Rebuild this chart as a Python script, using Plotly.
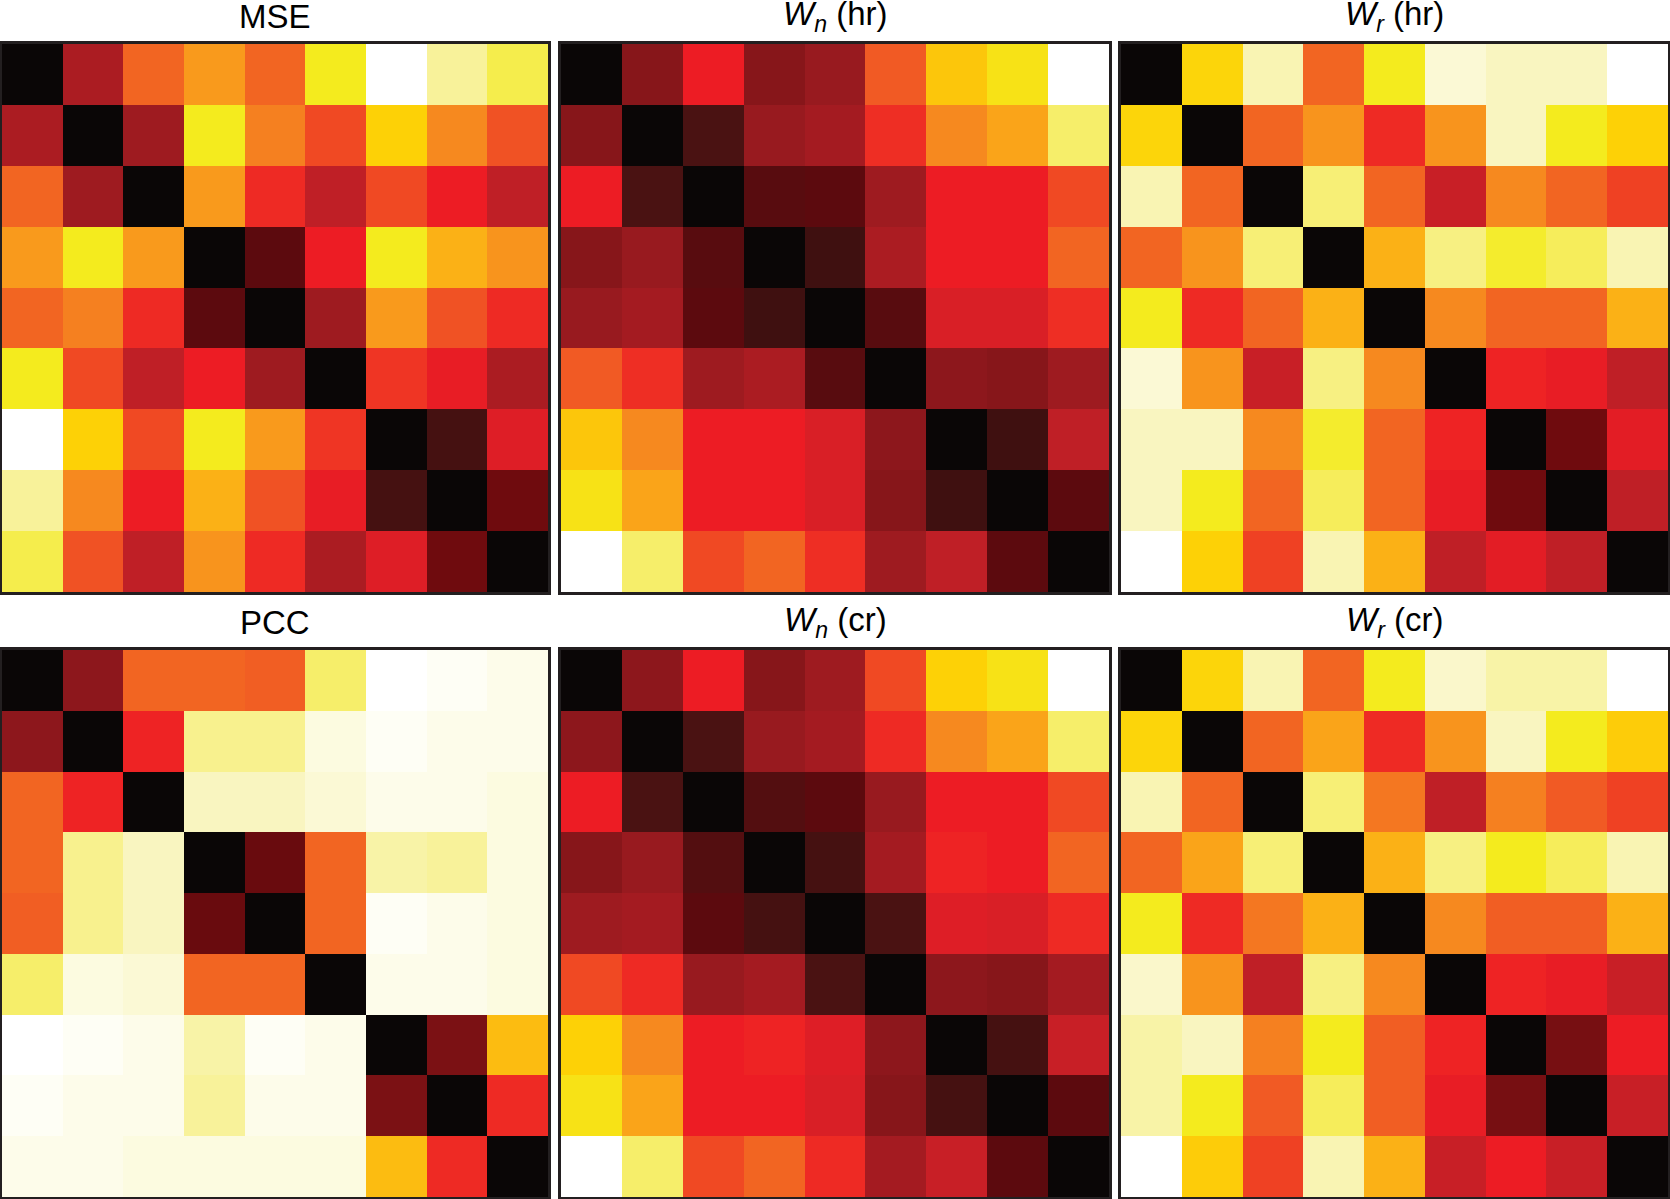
import plotly.graph_objects as go

# ---- data (normalised dissimilarity, 0 = black, 1 = white) ----
mse = [
    [0.00, 0.30, 0.56, 0.63, 0.56, 0.82, 1.00, 0.91, 0.85],
    [0.30, 0.00, 0.28, 0.82, 0.59, 0.51, 0.76, 0.60, 0.52],
    [0.56, 0.28, 0.00, 0.63, 0.44, 0.35, 0.51, 0.42, 0.35],
    [0.63, 0.82, 0.63, 0.00, 0.15, 0.42, 0.82, 0.70, 0.62],
    [0.56, 0.59, 0.44, 0.15, 0.00, 0.28, 0.63, 0.52, 0.44],
    [0.82, 0.51, 0.35, 0.42, 0.28, 0.00, 0.47, 0.41, 0.30],
    [1.00, 0.76, 0.51, 0.82, 0.63, 0.47, 0.00, 0.10, 0.39],
    [0.91, 0.60, 0.42, 0.70, 0.52, 0.41, 0.10, 0.00, 0.18],
    [0.85, 0.52, 0.35, 0.62, 0.44, 0.30, 0.39, 0.18, 0.00],
]
wn_hr = [
    [0.00, 0.24, 0.42, 0.24, 0.27, 0.53, 0.74, 0.80, 1.00],
    [0.24, 0.00, 0.11, 0.27, 0.29, 0.45, 0.60, 0.66, 0.87],
    [0.42, 0.11, 0.00, 0.14, 0.15, 0.28, 0.42, 0.42, 0.51],
    [0.24, 0.27, 0.14, 0.00, 0.09, 0.30, 0.42, 0.42, 0.56],
    [0.27, 0.29, 0.15, 0.09, 0.00, 0.14, 0.38, 0.38, 0.45],
    [0.53, 0.45, 0.28, 0.30, 0.14, 0.00, 0.25, 0.24, 0.28],
    [0.74, 0.60, 0.42, 0.42, 0.38, 0.25, 0.00, 0.09, 0.35],
    [0.80, 0.66, 0.42, 0.42, 0.38, 0.24, 0.09, 0.00, 0.15],
    [1.00, 0.87, 0.51, 0.56, 0.45, 0.28, 0.35, 0.15, 0.00],
]
wr_hr = [
    [0.00, 0.77, 0.93, 0.56, 0.82, 0.96, 0.94, 0.94, 1.00],
    [0.77, 0.00, 0.56, 0.62, 0.44, 0.62, 0.94, 0.82, 0.76],
    [0.93, 0.56, 0.00, 0.88, 0.56, 0.36, 0.60, 0.56, 0.50],
    [0.56, 0.62, 0.88, 0.00, 0.70, 0.89, 0.83, 0.86, 0.93],
    [0.82, 0.44, 0.56, 0.70, 0.00, 0.60, 0.56, 0.56, 0.70],
    [0.96, 0.62, 0.36, 0.89, 0.60, 0.00, 0.43, 0.41, 0.35],
    [0.94, 0.94, 0.60, 0.83, 0.56, 0.43, 0.00, 0.18, 0.40],
    [0.94, 0.82, 0.56, 0.86, 0.56, 0.41, 0.18, 0.00, 0.35],
    [1.00, 0.76, 0.50, 0.93, 0.70, 0.35, 0.40, 0.35, 0.00],
]
pcc = [
    [0.00, 0.25, 0.56, 0.56, 0.54, 0.87, 1.00, 0.99, 0.98],
    [0.25, 0.00, 0.43, 0.90, 0.90, 0.97, 0.99, 0.98, 0.98],
    [0.56, 0.43, 0.00, 0.94, 0.94, 0.96, 0.98, 0.98, 0.97],
    [0.56, 0.90, 0.94, 0.00, 0.17, 0.56, 0.92, 0.91, 0.97],
    [0.54, 0.90, 0.94, 0.17, 0.00, 0.56, 0.99, 0.98, 0.97],
    [0.87, 0.97, 0.96, 0.56, 0.56, 0.00, 0.98, 0.98, 0.97],
    [1.00, 0.99, 0.98, 0.92, 0.99, 0.98, 0.00, 0.21, 0.72],
    [0.99, 0.98, 0.98, 0.91, 0.98, 0.98, 0.21, 0.00, 0.44],
    [0.98, 0.98, 0.97, 0.97, 0.97, 0.97, 0.72, 0.44, 0.00],
]
wn_cr = [
    [0.00, 0.25, 0.42, 0.24, 0.28, 0.51, 0.76, 0.80, 1.00],
    [0.25, 0.00, 0.11, 0.27, 0.29, 0.44, 0.60, 0.66, 0.87],
    [0.42, 0.11, 0.00, 0.13, 0.15, 0.27, 0.42, 0.42, 0.51],
    [0.24, 0.27, 0.13, 0.00, 0.10, 0.29, 0.43, 0.42, 0.56],
    [0.28, 0.29, 0.15, 0.10, 0.00, 0.11, 0.39, 0.38, 0.44],
    [0.51, 0.44, 0.27, 0.29, 0.11, 0.00, 0.25, 0.24, 0.29],
    [0.76, 0.60, 0.42, 0.43, 0.39, 0.25, 0.00, 0.10, 0.36],
    [0.80, 0.66, 0.42, 0.42, 0.38, 0.24, 0.10, 0.00, 0.15],
    [1.00, 0.87, 0.51, 0.56, 0.44, 0.29, 0.36, 0.15, 0.00],
]
wr_cr = [
    [0.00, 0.77, 0.93, 0.56, 0.82, 0.95, 0.92, 0.92, 1.00],
    [0.77, 0.00, 0.56, 0.66, 0.44, 0.62, 0.94, 0.82, 0.75],
    [0.93, 0.56, 0.00, 0.88, 0.58, 0.35, 0.59, 0.53, 0.50],
    [0.56, 0.66, 0.88, 0.00, 0.70, 0.89, 0.82, 0.86, 0.93],
    [0.82, 0.44, 0.58, 0.70, 0.00, 0.60, 0.54, 0.54, 0.70],
    [0.95, 0.62, 0.35, 0.89, 0.60, 0.00, 0.43, 0.41, 0.36],
    [0.92, 0.94, 0.59, 0.82, 0.54, 0.43, 0.00, 0.20, 0.42],
    [0.92, 0.82, 0.53, 0.86, 0.54, 0.41, 0.20, 0.00, 0.36],
    [1.00, 0.75, 0.50, 0.93, 0.70, 0.36, 0.42, 0.36, 0.00],
]

titles = ["MSE", "<i>W</i><sub><i>n</i></sub> (hr)", "<i>W</i><sub><i>r</i></sub> (hr)",
          "PCC", "<i>W</i><sub><i>n</i></sub> (cr)", "<i>W</i><sub><i>r</i></sub> (cr)"]
matrices = [mse, wn_hr, wr_hr, pcc, wn_cr, wr_cr]

# hot-like colour scale
hot = [
    [0.00, "#0a0606"], [0.09, "#3f1010"], [0.11, "#4a1212"], [0.15, "#5c0a0e"],
    [0.18, "#6f0b0e"], [0.24, "#87161a"], [0.28, "#9e1b20"], [0.30, "#ab1c22"],
    [0.35, "#bf1f26"], [0.38, "#d91f26"], [0.42, "#ed1c24"], [0.44, "#ee2a24"],
    [0.50, "#ef4123"], [0.53, "#f15a24"], [0.56, "#f26522"], [0.60, "#f6891f"],
    [0.63, "#f99a1c"], [0.70, "#fbb116"], [0.76, "#fdd106"], [0.82, "#f4eb1e"],
    [0.87, "#f6ee6a"], [0.91, "#f8f29a"], [0.94, "#f9f5c0"], [0.97, "#fcfbe0"],
    [1.00, "#ffffff"],
]

W, H = 1670, 1199
col_px = [(2, 548), (561, 1109), (1121, 1668)]
row_px = [(44, 592), (650, 1197)]

fig = go.Figure()
annotations = []
for k, (z, t) in enumerate(zip(matrices, titles)):
    r, c = divmod(k, 3)
    ax = "" if k == 0 else str(k + 1)
    fig.add_trace(go.Heatmap(z=z, zmin=0, zmax=1, colorscale=hot, showscale=False,
                             xaxis="x" + ax, yaxis="y" + ax, hoverinfo="skip"))
    x0, x1 = col_px[c]
    y0, y1 = row_px[r]
    common = dict(showticklabels=False, ticks="", showgrid=False, zeroline=False,
                  showline=True, mirror=True, linecolor="#231f20", linewidth=2.5)
    fig.layout["xaxis" + ax] = dict(domain=[x0 / W, x1 / W], anchor="y" + ax, **common)
    fig.layout["yaxis" + ax] = dict(domain=[1 - y1 / H, 1 - y0 / H], anchor="x" + ax,
                                    autorange="reversed", **common)
    annotations.append(dict(text=t, x=(x0 + x1) / 2 / W, y=1 - (y0 - 28) / H,
                            xref="paper", yref="paper", xanchor="center", yanchor="middle",
                            showarrow=False,
                            font=dict(family="Liberation Sans, Arial", size=33, color="#000000")))

fig.update_layout(width=W, height=H, margin=dict(l=0, r=0, t=0, b=0),
                  paper_bgcolor="white", plot_bgcolor="white",
                  annotations=annotations, showlegend=False)

fig.write_html("out.html", config={"displayModeBar": False},
               post_script="document.body.style.margin='0';document.body.style.overflow='hidden';")
